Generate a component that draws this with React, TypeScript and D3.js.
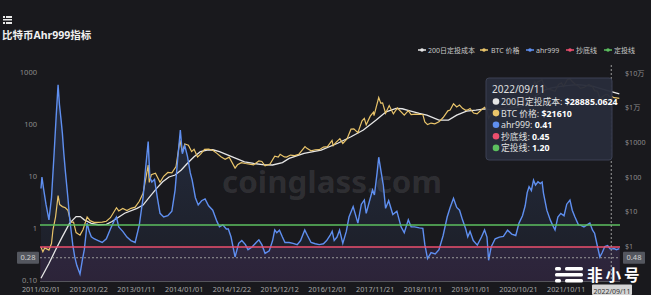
import React from 'react';
import * as d3 from 'd3';

const W = 651;
const H = 295;

// ---------- data ----------
const xTickDates = ['2011-02-01', '2012-01-22', '2013-01-11', '2014-01-01', '2014-12-22', '2015-12-12', '2016-12-01', '2017-11-21', '2018-11-11', '2019-11-01', '2020-10-21', '2021-10-11'];
const pointerDate = '2022-09-11';
const pointerAhr = 0.28;
const pointerPrice = 0.48;

const leftTicks = [0.1, 1, 10, 100, 1000];
const leftTickLabels = ['0.10', '1', '10', '100', '1000'];
const rightTicks = [1, 10, 100, 1000, 10000, 100000];
const rightTickLabels = ['$1', '$10', '$100', '$1000', '$1万', '$10万'];

const buyLine = 0.45; // 抄底线
const dcaLine = 1.2; // 定投线

const legendLabels = ['200日定投成本', 'BTC 价格', 'ahr999', '抄底线', '定投线'];
const tooltipLabels = ['200日定投成本: ', 'BTC 价格: ', 'ahr999: ', '抄底线: ', '定投线: '];
const tooltipValues = ['$28885.0624', '$21610', '0.41', '0.45', '1.20'];

const ahr999: [string, number][] = [
  ['2011-02-01', 6], ['2011-02-08', 10], ['2011-02-20', 6], ['2011-03-10', 3], ['2011-04-01', 1.5],
  ['2011-04-20', 4], ['2011-05-10', 30], ['2011-05-25', 150], ['2011-06-08', 590], ['2011-06-18', 250],
  ['2011-07-01', 120], ['2011-07-10', 69], ['2011-07-20', 30], ['2011-08-01', 13], ['2011-08-20', 4],
  ['2011-09-01', 1.7], ['2011-09-25', 0.5], ['2011-10-10', 0.29], ['2011-10-25', 0.2], ['2011-11-18', 0.136],
  ['2011-12-05', 0.25], ['2011-12-20', 0.4], ['2012-01-10', 1.3], ['2012-01-25', 0.9], ['2012-02-10', 0.71],
  ['2012-03-01', 0.65], ['2012-04-01', 0.6], ['2012-05-01', 0.55], ['2012-06-01', 0.65], ['2012-07-01', 1.0],
  ['2012-08-01', 1.5], ['2012-08-15', 1.7], ['2012-09-01', 1.1], ['2012-10-01', 0.9], ['2012-11-01', 0.7],
  ['2012-12-01', 0.6], ['2013-01-01', 0.55], ['2013-02-01', 1.2], ['2013-03-01', 4], ['2013-03-20', 15],
  ['2013-04-08', 48], ['2013-04-20', 10], ['2013-05-05', 8], ['2013-05-25', 9], ['2013-06-15', 4],
  ['2013-07-05', 2], ['2013-08-01', 1.7], ['2013-09-01', 1.8], ['2013-10-01', 2.2], ['2013-10-25', 5.6],
  ['2013-11-15', 25], ['2013-12-03', 80], ['2013-12-18', 28], ['2014-01-05', 40], ['2014-01-25', 25],
  ['2014-02-15', 12], ['2014-03-01', 8.7], ['2014-03-25', 4], ['2014-04-15', 2.9], ['2014-05-10', 3.5],
  ['2014-06-05', 3.8], ['2014-07-01', 2.8], ['2014-08-01', 2.3], ['2014-09-01', 1.4], ['2014-09-20', 1.1],
  ['2014-10-15', 1.2], ['2014-11-10', 1.0], ['2014-11-25', 1.0], ['2014-12-15', 0.7], ['2015-01-14', 0.29],
  ['2015-02-10', 0.53], ['2015-03-05', 0.6], ['2015-04-01', 0.5], ['2015-04-20', 0.4], ['2015-05-20', 0.45],
  ['2015-06-20', 0.55], ['2015-07-10', 0.62], ['2015-08-01', 0.5], ['2015-08-25', 0.34], ['2015-09-25', 0.38],
  ['2015-10-20', 0.6], ['2015-11-05', 0.96], ['2015-11-20', 0.85], ['2015-12-10', 0.95], ['2016-01-01', 0.7],
  ['2016-01-20', 0.55], ['2016-02-20', 0.55], ['2016-03-20', 0.53], ['2016-04-20', 0.5], ['2016-05-15', 0.6],
  ['2016-06-15', 0.96], ['2016-07-05', 0.75], ['2016-08-01', 0.55], ['2016-09-01', 0.52], ['2016-10-01', 0.5],
  ['2016-11-01', 0.52], ['2016-11-25', 0.6], ['2016-12-20', 0.75], ['2017-01-05', 0.9], ['2017-01-20', 0.6],
  ['2017-02-10', 0.7], ['2017-03-01', 0.95], ['2017-03-25', 0.53], ['2017-04-20', 0.9], ['2017-05-10', 1.7],
  ['2017-06-10', 2.7], ['2017-07-15', 1.3], ['2017-08-10', 3.0], ['2017-09-01', 3.6], ['2017-09-15', 2.0],
  ['2017-10-10', 3.5], ['2017-11-01', 5.6], ['2017-11-15', 4.5], ['2017-12-05', 12], ['2017-12-17', 24],
  ['2018-01-05', 12], ['2018-01-20', 7], ['2018-02-06', 2.5], ['2018-03-01', 3.5], ['2018-04-01', 1.9],
  ['2018-05-01', 2.2], ['2018-06-01', 1.1], ['2018-06-25', 0.85], ['2018-07-25', 1.5], ['2018-08-15', 1.1],
  ['2018-09-10', 1.1], ['2018-10-15', 1.05], ['2018-11-10', 1.03], ['2018-11-25', 0.5], ['2018-12-15', 0.27],
  ['2019-01-10', 0.35], ['2019-02-10', 0.33], ['2019-03-10', 0.4], ['2019-04-10', 0.75], ['2019-05-10', 1.7],
  ['2019-06-01', 2.6], ['2019-06-26', 3.9], ['2019-07-20', 2.6], ['2019-08-10', 2.3], ['2019-09-01', 1.5],
  ['2019-09-25', 1.0], ['2019-10-10', 0.71], ['2019-10-27', 0.9], ['2019-11-20', 0.6], ['2019-12-20', 0.49],
  ['2020-01-20', 0.7], ['2020-02-12', 0.96], ['2020-03-01', 0.7], ['2020-03-13', 0.25], ['2020-04-01', 0.45],
  ['2020-05-01', 0.65], ['2020-06-01', 0.7], ['2020-07-01', 0.72], ['2020-08-01', 0.95], ['2020-09-01', 0.8],
  ['2020-10-01', 0.75], ['2020-10-25', 1.3], ['2020-11-20', 1.8], ['2020-12-10', 2.8], ['2020-12-25', 5],
  ['2021-01-08', 6.5], ['2021-01-25', 5.5], ['2021-02-10', 8.7], ['2021-02-25', 7], ['2021-03-15', 8.1],
  ['2021-04-01', 7.5], ['2021-04-15', 8], ['2021-04-25', 4.9], ['2021-05-20', 2.3], ['2021-06-15', 1.48],
  ['2021-07-01', 1.2], ['2021-07-20', 0.96], ['2021-08-10', 1.7], ['2021-09-01', 2.0], ['2021-09-25', 1.8],
  ['2021-10-15', 3.0], ['2021-11-08', 3.6], ['2021-11-25', 2.3], ['2021-12-15', 1.7], ['2022-01-10', 1.2],
  ['2022-01-25', 1.19], ['2022-02-20', 1.1], ['2022-03-15', 1.2], ['2022-04-05', 1.3], ['2022-04-25', 0.95],
  ['2022-05-10', 0.83], ['2022-05-25', 0.55], ['2022-06-18', 0.29], ['2022-07-05', 0.35], ['2022-07-25', 0.46],
  ['2022-08-15', 0.48], ['2022-09-01', 0.42], ['2022-09-11', 0.41], ['2022-10-01', 0.42], ['2022-10-20', 0.4],
  ['2022-11-10', 0.42],
];

const btcPrice: [string, number][] = [
  ['2011-02-01', 0.95], ['2011-02-15', 0.7], ['2011-03-01', 0.9], ['2011-04-01', 0.78], ['2011-04-20', 1.2],
  ['2011-05-01', 3], ['2011-05-20', 7], ['2011-06-08', 29], ['2011-06-20', 16], ['2011-07-10', 14],
  ['2011-08-01', 13], ['2011-08-20', 11], ['2011-09-10', 5], ['2011-10-01', 5], ['2011-10-20', 2.5],
  ['2011-11-18', 2.1], ['2011-12-10', 3], ['2012-01-10', 7], ['2012-02-01', 5.5], ['2012-03-01', 4.9],
  ['2012-04-01', 4.9], ['2012-05-01', 5], ['2012-06-01', 5.3], ['2012-07-01', 6.7], ['2012-08-15', 13],
  ['2012-09-01', 10.5], ['2012-10-01', 12.4], ['2012-11-01', 10.8], ['2012-12-01', 12.5], ['2013-01-01', 13.5],
  ['2013-02-01', 20], ['2013-03-01', 34], ['2013-04-08', 220], ['2013-04-16', 70], ['2013-05-01', 116],
  ['2013-06-01', 128], ['2013-07-05', 70], ['2013-08-01', 105], ['2013-09-01', 135], ['2013-10-01', 132],
  ['2013-11-01', 200], ['2013-11-30', 1150], ['2013-12-18', 520], ['2014-01-05', 900], ['2014-02-01', 830],
  ['2014-02-25', 540], ['2014-03-15', 630], ['2014-04-10', 380], ['2014-05-01', 450], ['2014-06-01', 630],
  ['2014-07-01', 640], ['2014-08-01', 590], ['2014-09-01', 480], ['2014-10-01', 385], ['2014-11-01', 325],
  ['2014-12-01', 375], ['2015-01-14', 180], ['2015-02-01', 225], ['2015-03-01', 260], ['2015-04-01', 245],
  ['2015-05-01', 235], ['2015-06-01', 225], ['2015-07-10', 290], ['2015-08-01', 280], ['2015-08-25', 210],
  ['2015-10-01', 237], ['2015-11-05', 400], ['2015-12-01', 375], ['2015-12-15', 450], ['2016-01-15', 380],
  ['2016-02-01', 375], ['2016-03-01', 430], ['2016-04-01', 415], ['2016-05-01', 450], ['2016-06-17', 750],
  ['2016-07-01', 670], ['2016-08-01', 570], ['2016-09-01', 610], ['2016-10-01', 615], ['2016-11-01', 730],
  ['2016-12-01', 750], ['2017-01-04', 1130], ['2017-01-12', 800], ['2017-02-01', 980], ['2017-03-03', 1280],
  ['2017-03-25', 930], ['2017-04-25', 1250], ['2017-05-25', 2400], ['2017-06-15', 2450], ['2017-07-15', 1900],
  ['2017-08-15', 4200], ['2017-09-01', 4900], ['2017-09-15', 3200], ['2017-10-15', 5700], ['2017-11-08', 7400],
  ['2017-11-12', 5900], ['2017-12-17', 19500], ['2018-01-01', 13500], ['2018-01-15', 13800], ['2018-02-06', 6900],
  ['2018-03-05', 11500], ['2018-04-05', 6600], ['2018-05-05', 9800], ['2018-06-25', 6100], ['2018-07-25', 8200],
  ['2018-08-15', 6300], ['2018-09-15', 6500], ['2018-10-15', 6400], ['2018-11-10', 6350], ['2018-11-25', 3900],
  ['2018-12-15', 3250], ['2019-01-10', 3600], ['2019-02-07', 3400], ['2019-03-10', 3900], ['2019-04-10', 5200],
  ['2019-05-15', 8100], ['2019-06-01', 8500], ['2019-06-26', 12900], ['2019-07-20', 10500], ['2019-08-10', 11900],
  ['2019-09-01', 9600], ['2019-09-25', 8400], ['2019-10-10', 8600], ['2019-10-27', 9500], ['2019-11-22', 7000],
  ['2019-12-18', 6600], ['2020-01-20', 8700], ['2020-02-12', 10300], ['2020-03-01', 8600], ['2020-03-13', 4900],
  ['2020-04-01', 6600], ['2020-05-01', 8800], ['2020-06-01', 9500], ['2020-07-01', 9200], ['2020-08-01', 11800],
  ['2020-09-05', 10200], ['2020-10-01', 10600], ['2020-10-25', 13000], ['2020-11-20', 18500], ['2020-12-10', 18300],
  ['2020-12-25', 24700], ['2021-01-08', 40000], ['2021-01-25', 32500], ['2021-02-20', 56000], ['2021-02-28', 45000],
  ['2021-03-15', 56000], ['2021-04-14', 63500], ['2021-04-25', 49000], ['2021-05-19', 37000], ['2021-06-22', 32500],
  ['2021-07-20', 29800], ['2021-08-15', 47000], ['2021-09-06', 52000], ['2021-09-21', 41000], ['2021-10-20', 65000],
  ['2021-11-08', 67500], ['2021-11-25', 57000], ['2021-12-15', 48000], ['2022-01-10', 41800], ['2022-01-24', 36300],
  ['2022-02-20', 38300], ['2022-03-28', 47100], ['2022-04-25', 40400], ['2022-05-10', 31000], ['2022-06-01', 29800],
  ['2022-06-18', 19000], ['2022-07-05', 20200], ['2022-07-30', 23800], ['2022-08-15', 24300], ['2022-09-01', 20000],
  ['2022-09-11', 21610], ['2022-10-01', 19400], ['2022-10-20', 19100], ['2022-11-10', 18500],
];

const dcaCost200: [string, number][] = [
  ['2011-02-01', 0.12], ['2011-04-01', 0.32], ['2011-05-20', 0.78], ['2011-07-10', 1.9], ['2011-09-01', 4.6],
  ['2011-10-20', 7.2], ['2011-11-20', 7.2], ['2011-12-20', 5.8], ['2012-02-10', 4.6], ['2012-04-01', 4.2],
  ['2012-06-01', 4.3], ['2012-07-10', 5.1], ['2012-10-15', 9], ['2013-01-15', 12.5], ['2013-03-01', 15.5],
  ['2013-04-20', 27], ['2013-06-10', 47], ['2013-07-25', 73], ['2013-09-10', 100], ['2013-10-25', 114],
  ['2013-12-10', 160], ['2014-01-25', 248], ['2014-03-15', 385], ['2014-05-01', 537], ['2014-06-20', 600],
  ['2014-08-01', 610], ['2014-09-20', 537], ['2014-12-20', 385], ['2015-03-25', 275], ['2015-06-01', 246],
  ['2015-08-20', 225], ['2015-10-20', 222], ['2016-01-01', 260], ['2016-02-20', 345], ['2016-06-10', 480],
  ['2016-10-15', 600], ['2017-02-15', 940], ['2017-05-25', 1450], ['2017-08-25', 2270], ['2017-11-28', 4400],
  ['2018-02-10', 7600], ['2018-04-25', 9500], ['2018-06-10', 9300], ['2018-07-30', 8200], ['2018-10-15', 6800],
  ['2018-12-10', 6100], ['2019-03-10', 4400], ['2019-05-20', 4400], ['2019-07-20', 6100], ['2019-10-01', 8000],
  ['2019-12-10', 8500], ['2020-02-15', 9200], ['2020-05-01', 8300], ['2020-08-01', 9000], ['2020-11-01', 10500],
  ['2021-01-01', 14000], ['2021-03-01', 22000], ['2021-05-01', 32000], ['2021-07-01', 38000], ['2021-09-01', 41000],
  ['2021-11-01', 44000], ['2022-01-01', 46000], ['2022-03-01', 44000], ['2022-05-01', 41000], ['2022-07-01', 35000],
  ['2022-09-11', 28885], ['2022-11-10', 25000],
];

// ---------- styling ----------
const BG = '#19191d';
const C_WHITE = '#e6e6e6';
const C_YELLOW = '#e9c46a';
const C_BLUE = '#5f8ff0';
const C_RED = '#ec4f6e';
const C_GREEN = '#5cbf5f';
const seriesColors = [C_WHITE, C_YELLOW, C_BLUE, C_RED, C_GREEN];
const FONT = "'Noto Sans', 'Noto Sans CJK SC', sans-serif";

const parse = d3.timeParse('%Y-%m-%d');
const fmt = d3.timeFormat('%Y/%m/%d');

const PL = 40, PR = 620, PT = 73, PB = 281;

export default function App() {
  const x = d3.scaleTime()
    .domain([parse('2011-02-01')!, parse('2022-11-15')!])
    .range([41, 620]);
  const yL = d3.scaleLog().domain([0.1, 1000]).range([PB, PT]);
  const yR = d3.scaleLog().domain([0.1, 100000]).range([PB, PT]);

  const lineL = d3.line<[string, number]>().x(d => x(parse(d[0])!)).y(d => yL(d[1]));
  const lineR = d3.line<[string, number]>().x(d => x(parse(d[0])!)).y(d => yR(d[1]));
  const areaL = d3.area<[string, number]>().x(d => x(parse(d[0])!)).y0(PB).y1(d => yL(d[1]));

  const px = x(parse(pointerDate)!);
  const py = yL(pointerAhr);

  const legendIconX = [422, 484, 530, 570, 608];
  const legendTextX = [428, 491, 536, 576, 614];

  return (
    <svg width={W} height={H} style={{ position: 'fixed', left: 0, top: 0, background: BG, fontFamily: FONT }}>
      <defs>
        <clipPath id="plot"><rect x={PL} y={PT - 10} width={PR - PL} height={PB - PT + 10} /></clipPath>
        <linearGradient id="blueArea" x1="0" y1="0" x2="0" y2="1">
          <stop offset="0" stopColor={C_BLUE} stopOpacity={0.18} />
          <stop offset="1" stopColor={C_BLUE} stopOpacity={0.04} />
        </linearGradient>
      </defs>
      <rect x={0} y={0} width={W} height={H} fill={BG} />

      {/* title */}
      <g fill="#e8e8e8">
        <rect x={3} y={16} width={2} height={2} />
        <rect x={6} y={16} width={6} height={2} />
        <rect x={3} y={19} width={9} height={1.5} />
        <rect x={3} y={22} width={2} height={2} />
        <rect x={6} y={22} width={6} height={2} />
      </g>
      <text x={2} y={39} fill="#f0f0f0" fontSize={10.5} fontWeight="bold">比特币Ahr999指标</text>

      {/* legend */}
      {legendLabels.map((l, i) => (
        <g key={l}>
          <line x1={legendIconX[i] - 4} x2={legendIconX[i] + 4} y1={50} y2={50} stroke={seriesColors[i]} strokeWidth={1.5} />
          <circle cx={legendIconX[i]} cy={50} r={1.8} fill={seriesColors[i]} />
          <text x={legendTextX[i]} y={52.5} fill="#c8c8c8" fontSize={7}>{l}</text>
        </g>
      ))}

      {/* buy zone shading */}
      <rect x={PL} y={yL(buyLine)} width={PR - PL} height={PB - yL(buyLine)} fill="#2a1f31" />

      {/* watermark */}
      <text x={222} y={193} fill="#ffffff" fillOpacity={0.1} fontSize={30} fontWeight="bold" textLength={220} lengthAdjust="spacingAndGlyphs">coinglass.com</text>

      <g clipPath="url(#plot)">
        <path d={areaL(ahr999) ?? ''} fill="url(#blueArea)" />
        <path d={lineR(dcaCost200) ?? ''} fill="none" stroke={C_WHITE} strokeWidth={1.3} />
        <path d={lineR(btcPrice) ?? ''} fill="none" stroke={C_YELLOW} strokeWidth={1.2} />
        <path d={lineL(ahr999) ?? ''} fill="none" stroke={C_BLUE} strokeWidth={1.4} />
      </g>

      {/* threshold lines */}
      <line x1={PL} x2={PR} y1={yL(dcaLine)} y2={yL(dcaLine)} stroke={C_GREEN} strokeWidth={1.5} />
      <line x1={PL} x2={PR} y1={yL(buyLine)} y2={yL(buyLine)} stroke={C_RED} strokeWidth={1.5} />

      {/* x axis */}
      <line x1={PL} x2={PR} y1={PB + 0.5} y2={PB + 0.5} stroke="#55555c" />
      {xTickDates.map(d => (
        <text key={d} x={x(parse(d)!)} y={292} fill="#a8a8a8" fontSize={7.2} textAnchor="middle">{fmt(parse(d)!)}</text>
      ))}

      {/* y axes */}
      {leftTicks.map((t, i) => (
        <text key={t} x={37} y={yL(t) + 2} fill="#8c8c8c" fontSize={7.5} textAnchor="end">{leftTickLabels[i]}</text>
      ))}
      {rightTicks.map((t, i) => (
        <text key={t} x={625} y={yR(t) + 2.5} fill="#8c8c8c" fontSize={7.2}>{rightTickLabels[i]}</text>
      ))}

      {/* axis pointer */}
      <line x1={px} x2={px} y1={PT - 8} y2={PB} stroke="#9a9a9a" strokeDasharray="2,2" />
      <line x1={PL} x2={PR} y1={py} y2={py} stroke="#9a9a9a" strokeDasharray="2,2" />
      <rect x={17} y={py - 6} width={22} height={12} fill="#54575f" rx={1} />
      <text x={28} y={py + 2.5} fill="#d0d0d0" fontSize={7.5} textAnchor="middle">{pointerAhr.toFixed(2)}</text>
      <rect x={623} y={py - 6} width={22} height={12} fill="#54575f" rx={1} />
      <text x={634} y={py + 2.5} fill="#d0d0d0" fontSize={7.5} textAnchor="middle">{pointerPrice.toFixed(2)}</text>

      {/* 非小号 logo */}
      <g fill="#ffffff">
        <rect x={555} y={267} width={6} height={3.5} rx={1.5} />
        <rect x={565} y={267} width={18} height={3.5} rx={1.5} />
        <rect x={555} y={273} width={28} height={3.5} rx={1.5} />
        <rect x={555} y={279} width={6} height={3.5} rx={1.5} />
        <rect x={565} y={279} width={18} height={3.5} rx={1.5} />
        <text x={587} y={281} fontSize={15.5} fontWeight="bold" letterSpacing={3} fontFamily="'Noto Sans CJK SC', sans-serif">非小号</text>
      </g>

      <rect x={592} y={284.5} width={40} height={10.5} fill="#d4d4d4" rx={1} />
      <text x={612} y={293.5} fill="#333" fontSize={7} textAnchor="middle">{fmt(parse(pointerDate)!)}</text>

      {/* tooltip */}
      <g>
        <rect x={486} y={78} width={126} height={82} rx={3} fill="#282c3a" fillOpacity={0.96} stroke="#3c4154" />
        <text x={492} y={93} fill="#e0e0e0" fontSize={10}>{fmt(parse(pointerDate)!)}</text>
        {tooltipLabels.map((l, i) => (
          <g key={l}>
            <circle cx={496} cy={101.5 + i * 11.6} r={3.3} fill={seriesColors[i]} />
            <text x={501} y={105 + i * 11.6} fill="#e0e0e0" fontSize={8.8}>
              <tspan>{l}</tspan>
              <tspan fontWeight="bold" fill="#ffffff">{tooltipValues[i]}</tspan>
            </text>
          </g>
        ))}
      </g>
    </svg>
  );
}
